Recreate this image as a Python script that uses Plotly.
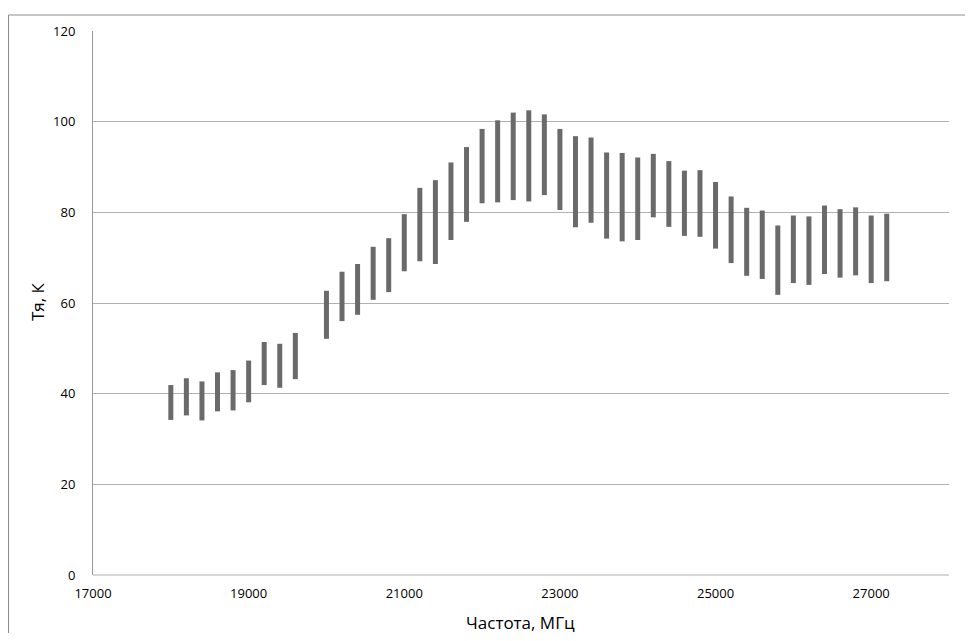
import plotly.graph_objects as go

freq_mhz = [18000, 18200, 18400, 18600, 18800, 19000, 19200, 19400, 19600,
            20000, 20200, 20400, 20600, 20800, 21000, 21200, 21400, 21600, 21800,
            22000, 22200, 22400, 22600, 22800, 23000, 23200, 23400, 23600, 23800,
            24000, 24200, 24400, 24600, 24800, 25000, 25200, 25400, 25600, 25800,
            26000, 26200, 26400, 26600, 26800, 27000, 27200]
t_max = [41.9, 43.4, 42.7, 44.7, 45.2, 47.3, 51.4, 51.0, 53.4,
         62.7, 66.9, 68.6, 72.4, 74.3, 79.6, 85.4, 87.1, 91.0, 94.4,
         98.4, 100.3, 102.0, 102.5, 101.6, 98.4, 96.8, 96.5, 93.2, 93.1,
         92.1, 92.9, 91.3, 89.2, 89.3, 86.7, 83.5, 81.0, 80.4, 77.1,
         79.3, 79.1, 81.5, 80.7, 81.1, 79.3, 79.7]
t_min = [34.2, 35.2, 34.1, 36.1, 36.3, 38.1, 41.9, 41.3, 43.2,
         52.1, 56.0, 57.4, 60.7, 62.4, 67.0, 69.2, 68.6, 73.9, 77.9,
         82.0, 82.2, 82.7, 82.4, 83.8, 80.5, 76.7, 77.7, 74.2, 73.6,
         73.9, 78.9, 76.8, 74.8, 74.6, 72.0, 68.8, 66.0, 65.3, 61.8,
         64.4, 64.0, 66.4, 65.6, 66.1, 64.4, 64.8]
x_ticks = [17000, 19000, 21000, 23000, 25000, 27000]
y_ticks = [0, 20, 40, 60, 80, 100, 120]

xs, ys = [], []
for f, lo, hi in zip(freq_mhz, t_min, t_max):
    xs += [f, f, None]
    ys += [lo, hi, None]

fig = go.Figure()
fig.add_trace(go.Scatter(x=xs, y=ys, mode="lines",
                         line=dict(color="#6a6a6a", width=5),
                         hoverinfo="skip", showlegend=False))

font = "Open Sans, Liberation Sans, sans-serif"
fig.update_layout(
    width=957, height=625,
    margin=dict(l=85, r=16, t=23, b=58, autoexpand=False),
    paper_bgcolor="white", plot_bgcolor="white",
    font=dict(family=font, size=13, color="#000000"),
    showlegend=False,
    xaxis=dict(range=[17000, 28000], tickvals=x_ticks,
               ticktext=[str(v) for v in x_ticks],
               showgrid=False, zeroline=False, showline=False, ticks="",
               ticklabelstandoff=9, automargin=False),
    yaxis=dict(range=[0, 120], tickvals=y_ticks,
               showgrid=True, gridcolor="#b0b0b0", gridwidth=1,
               zeroline=False, showline=True, linecolor="#999999", linewidth=1,
               ticks="", ticklabelstandoff=14, automargin=False),
    annotations=[
        dict(text="Частота, МГц", xref="paper", yref="paper",
             x=(520 - 93) / 856, y=(575 - 622) / 544, showarrow=False,
             xanchor="center", yanchor="middle", font=dict(size=17)),
        dict(text="Тя, К", xref="paper", yref="paper", textangle=-90,
             x=(37 - 93) / 856, y=(575 - 302) / 544, showarrow=False,
             xanchor="center", yanchor="middle", font=dict(size=17)),
    ],
    shapes=[
        dict(type="line", xref="paper", yref="paper", x0=0, x1=1, y0=0, y1=0,
             line=dict(color="#b0b0b0", width=1)),
        dict(type="rect", xref="paper", yref="paper",
             x0=(8.5 - 93) / 856, x1=(972 - 93) / 856,
             y0=(575 - 660) / 544, y1=(575 - 15) / 544,
             line=dict(color="#8c8c8c", width=1), fillcolor="rgba(0,0,0,0)",
             layer="below"),
    ],
)

fig.write_html("out.html")
